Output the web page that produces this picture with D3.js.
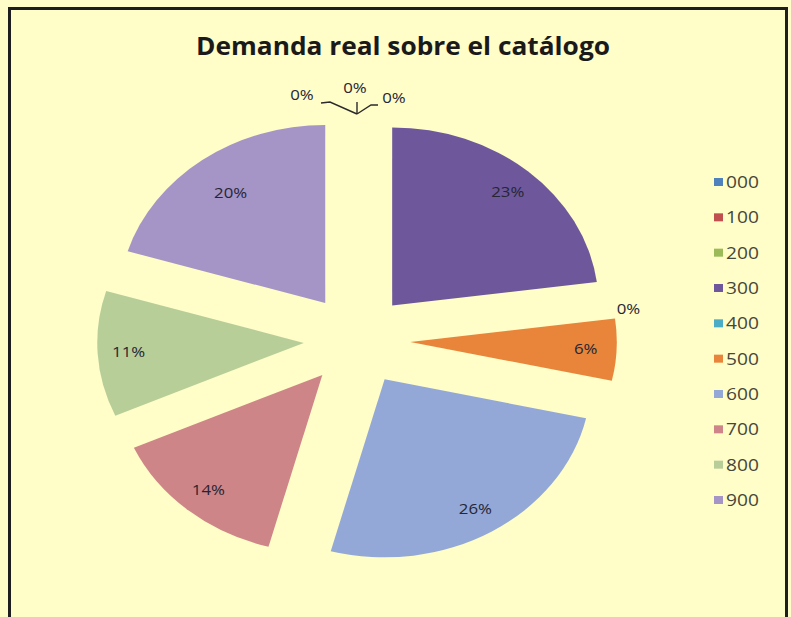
<!DOCTYPE html>
<html>
<head>
<meta charset="utf-8">
<script src="https://cdn.jsdelivr.net/npm/d3@7"></script>
<style>
  body { margin: 0; background: #fff; }
  svg { display: block; }
</style>
</head>
<body>
<svg id="chart"></svg>
<script>
const title = "Demanda real sobre el catálogo";
const categories = ["000", "100", "200", "300", "400", "500", "600", "700", "800", "900"];
// shares in percent, read from the slice edges (labels show them rounded)
const values = [0, 0, 0, 22.9, 0, 5.6, 25.7, 14.1, 11.4, 20.3];
const colors = ["#4F81BD", "#C0504D", "#9BBB59", "#6E589B", "#4BACC6",
                "#E8853A", "#93A8D6", "#CE8587", "#B8CE98", "#A594C6"];

const width = 791, height = 617;
// the original picture is stretched sideways, so the pie is drawn as an ellipse
const sx = 1.16;
const R = 178;        // vertical radius
const explode = 46;   // slice offset
const cx = 357, cy = 340;
// where each label sits, as a fraction of the radius (Excel "best fit")
const labelPos = [0.85, 0.85, 0.85, 0.85, 0.85, 0.85, 0.85, 0.85, 0.85, 0.77];

const svg = d3.select("#chart").attr("width", width).attr("height", height);

svg.append("rect")
  .attr("x", 0).attr("y", 0).attr("width", width).attr("height", height)
  .attr("fill", "#FFFDC8");

// chart frame (no bottom edge visible in the picture)
svg.append("rect")
  .attr("x", 9.5).attr("y", 8.5).attr("width", 777).attr("height", 640)
  .attr("fill", "none").attr("stroke", "#1e1e1e").attr("stroke-width", 3);

svg.append("text")
  .attr("x", 403).attr("y", 55)
  .attr("text-anchor", "middle")
  .attr("font-family", "Open Sans")
  .attr("font-weight", "bold")
  .attr("font-size", 25)
  .attr("fill", "#1a1a1a")
  .attr("textLength", 414)
  .attr("lengthAdjust", "spacingAndGlyphs")
  .text(title);

const pie = d3.pie().sort(null).value(d => d);
const arcs = pie(values);
const arc = d3.arc().innerRadius(0).outerRadius(R);
const mid = d => (d.startAngle + d.endAngle) / 2;
const fmt = v => Math.round(v) + "%";

const g = svg.append("g")
  .attr("transform", `translate(${cx},${cy}) scale(${sx},1)`);

g.selectAll("path")
  .data(arcs.filter(d => d.value > 0))
  .join("path")
  .attr("transform", d => `translate(${explode * Math.sin(mid(d))},${-explode * Math.cos(mid(d))})`)
  .attr("d", arc)
  .attr("fill", (d) => colors[d.index]);

// point on the (stretched) ellipse at distance r from the pie centre
function pt(a, r) {
  return [cx + sx * r * Math.sin(a), cy - r * Math.cos(a)];
}

const labelFont = { family: "Open Sans", size: 14.5, fill: "#262636" };

// labels of the non-zero slices, inside
svg.append("g").selectAll("text")
  .data(arcs.filter(d => d.value > 0))
  .join("text")
  .attr("transform", d => {
    const p = pt(mid(d), explode + labelPos[d.index] * R);
    return `translate(${p[0]},${p[1] + 5}) scale(${sx},1)`;
  })
  .attr("text-anchor", "middle")
  .attr("font-family", labelFont.family)
  .attr("font-size", labelFont.size)
  .attr("fill", labelFont.fill)
  .text(d => fmt(d.value));

// zero slices: those at the top are fanned out with leader lines,
// the others sit just outside the rim
const zeros = arcs.filter(d => d.value === 0);
const topZeros = zeros.filter(d => mid(d) < 0.01);
const sideZeros = zeros.filter(d => mid(d) >= 0.01);

const fan = [
  { dx: -55, dy: -13, line: [[-36, -13], [-27, -14], [0, -2]] },
  { dx: -2, dy: -20, line: [[0, -14], [0, -2]] },
  { dx: 37, dy: -10, line: [[21, -11], [14, -11], [0, -2]] }
];

topZeros.forEach((d, i) => {
  const a = pt(mid(d), explode + R);
  const f = fan[i];
  svg.append("path")
    .attr("d", d3.line()(f.line.map(p => [a[0] + p[0], a[1] + p[1]])))
    .attr("fill", "none")
    .attr("stroke", "#2a2a2a")
    .attr("stroke-width", 1.4);
  svg.append("text")
    .attr("transform", `translate(${a[0] + f.dx},${a[1] + f.dy - 3}) scale(${sx},1)`)
    .attr("text-anchor", "middle")
    .attr("font-family", labelFont.family)
    .attr("font-size", labelFont.size)
    .attr("fill", labelFont.fill)
    .text(fmt(d.value));
});

svg.append("g").selectAll("text")
  .data(sideZeros)
  .join("text")
  .attr("transform", d => {
    const p = pt(mid(d), explode + R + 12);
    return `translate(${p[0]},${p[1] + 5}) scale(${sx},1)`;
  })
  .attr("text-anchor", "middle")
  .attr("font-family", labelFont.family)
  .attr("font-size", labelFont.size)
  .attr("fill", labelFont.fill)
  .text(d => fmt(d.value));

// legend
const ly = d3.scalePoint().domain(categories).range([182, 500]);
const legend = svg.append("g").selectAll("g")
  .data(categories)
  .join("g")
  .attr("transform", d => `translate(714,${ly(d)})`);

legend.append("rect")
  .attr("x", 0).attr("y", -4)
  .attr("width", 9).attr("height", 8)
  .attr("fill", (d, i) => colors[i]);

legend.append("text")
  .attr("transform", `translate(12,6) scale(${sx},1)`)
  .attr("font-family", "Open Sans")
  .attr("font-size", 16.5)
  .attr("fill", "#46463a")
  .text(d => d);
</script>
</body>
</html>
